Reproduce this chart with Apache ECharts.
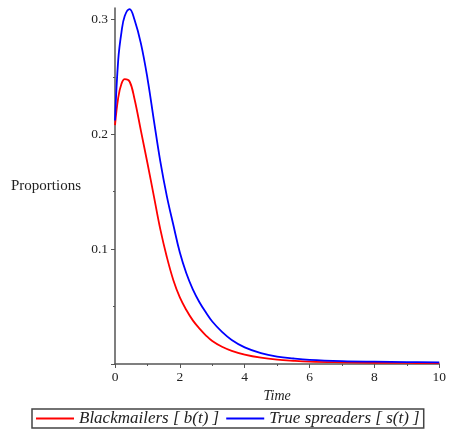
<!DOCTYPE html>
<html><head><meta charset="utf-8">
<script src="https://cdn.jsdelivr.net/npm/echarts@6/dist/echarts.min.js"></script>
<style>html,body{margin:0;padding:0;background:#fff}#c{width:449px;height:434px}</style>
</head><body><div id="c"></div>
<script>
var times = [0, 0.1, 0.2, 0.3, 0.45, 0.6, 0.8, 1.0, 1.2, 1.4, 1.6, 1.8, 2.0, 2.2, 2.4, 2.6, 2.8, 3.0, 3.3, 3.6, 4.0, 4.5, 5, 5.5, 6, 7, 8, 9, 10];
var blackmailers = [0.208, 0.232, 0.244, 0.248, 0.246, 0.231, 0.203, 0.175, 0.146, 0.117, 0.093, 0.073, 0.058, 0.047, 0.038, 0.031, 0.025, 0.020, 0.015, 0.0115, 0.0082, 0.0055, 0.0038, 0.0028, 0.0021, 0.0015, 0.0011, 0.0009, 0.0008];
var spreaders = [0.212, 0.265, 0.289, 0.303, 0.309, 0.300, 0.279, 0.249, 0.212, 0.176, 0.146, 0.121, 0.097, 0.079, 0.065, 0.054, 0.045, 0.037, 0.028, 0.021, 0.0145, 0.0095, 0.0065, 0.0048, 0.0036, 0.0025, 0.002, 0.0017, 0.0015];
var yLabels = [0.1, 0.2, 0.3];
var yMajor = [0, 0.1, 0.2, 0.3];
var yMinor = [0.05, 0.15, 0.25];
var seriesNames = ['Blackmailers [ b(t) ]', 'True spreaders [ s(t) ]'];

function pairs(v){ return times.map(function(t,i){ return [t, v[i]]; }); }
var serif = 'Liberation Serif';
var chart = echarts.init(document.getElementById('c'), null, {renderer:'canvas'});
chart.setOption({
  animation: false,
  grid: {left: 115, right: 7, top: 8, bottom: 70, containLabel: false},
  legend: {
    left: 32, top: 409, padding: [1, 4, 1, 4], itemGap: 7,
    itemWidth: 38, itemHeight: 2, icon: 'rect',
    borderColor: '#444', borderWidth: 1.5,
    textStyle: {fontFamily: serif, fontStyle: 'italic', fontSize: 17, color: '#222'},
    data: seriesNames
  },
  xAxis: {
    type: 'value', min: 0, max: 10, interval: 2,
    name: 'Time', nameLocation: 'middle', nameGap: 22,
    nameTextStyle: {fontFamily: serif, fontStyle: 'italic', fontSize: 14, color: '#222'},
    axisLine: {lineStyle: {color: '#555', width: 1.5}},
    axisTick: {length: 4, lineStyle: {color: '#555'}},
    minorTick: {show: true, splitNumber: 2, length: 2, lineStyle: {color: '#555'}},
    splitLine: {show: false},
    axisLabel: {fontFamily: serif, fontSize: 13.5, color: '#222', margin: 6}
  },
  yAxis: [{
    type: 'value', min: 0, max: 0.31,
    name: 'Proportions', nameLocation: 'middle', nameRotate: 0, nameGap: 34,
    nameTextStyle: {fontFamily: serif, fontSize: 15, color: '#222'},
    axisLine: {show: true, lineStyle: {color: '#555', width: 1.5}},
    axisTick: {show: true, length: 4, customValues: yMajor, lineStyle: {color: '#555'}},
    splitLine: {show: false},
    axisLabel: {fontFamily: serif, fontSize: 13.5, color: '#222', margin: 7, customValues: yLabels}
  }, {
    type: 'value', min: 0, max: 0.31, position: 'left',
    axisLine: {show: false},
    axisTick: {show: true, length: 2, customValues: yMinor, lineStyle: {color: '#555'}},
    splitLine: {show: false},
    axisLabel: {show: false}
  }],
  series: [{
    name: seriesNames[0], type: 'line', data: pairs(blackmailers), smooth: 0.4,
    symbol: 'none', lineStyle: {color: '#ff0000', width: 1.8}, itemStyle: {color: '#ff0000'}
  }, {
    name: seriesNames[1], type: 'line', data: pairs(spreaders), smooth: 0.4,
    symbol: 'none', lineStyle: {color: '#0000ff', width: 1.8}, itemStyle: {color: '#0000ff'}
  }]
});
</script></body></html>
